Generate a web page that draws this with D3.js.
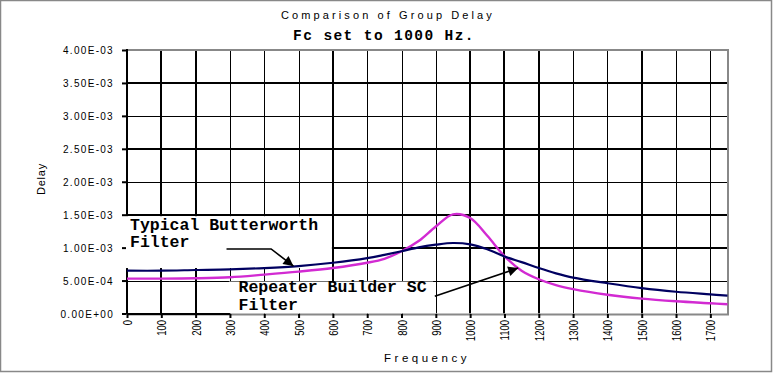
<!DOCTYPE html>
<html><head><meta charset="utf-8">
<script src="https://cdn.jsdelivr.net/npm/d3@7"></script>
<style>html,body{margin:0;padding:0;background:#fff;} svg{display:block;}</style>
</head><body>
<script>
// ---------- data ----------
const freq        = [0, 100, 200, 300, 400, 500, 600, 700, 750, 800, 850, 900, 950, 1000, 1050, 1100, 1150, 1200, 1250, 1300, 1400, 1500, 1600, 1700, 1750];
const butterworth = [0.00065, 0.00065, 0.00066, 0.00067, 0.00069, 0.00072, 0.00077, 0.00084, 0.00089, 0.000945, 0.001005, 0.001045, 0.00107, 0.00105, 0.000975, 0.000865, 0.00078, 0.00069, 0.00061, 0.000545, 0.00046, 0.000385, 0.00033, 0.00029, 0.00027];
const repeater    = [0.00053, 0.00053, 0.000535, 0.00055, 0.00059, 0.000635, 0.00069, 0.00077, 0.00083, 0.000945, 0.0011, 0.00132, 0.001505, 0.00145, 0.00118, 0.00087, 0.00065, 0.00052, 0.00043, 0.00037, 0.000285, 0.000225, 0.000185, 0.000155, 0.00014];
const xTicks      = [0, 100, 200, 300, 400, 500, 600, 700, 800, 900, 1000, 1100, 1200, 1300, 1400, 1500, 1600, 1700];
const yTicks      = [0, 0.0005, 0.001, 0.0015, 0.002, 0.0025, 0.003, 0.0035, 0.004];
const yTickLabels = ["0.00E+00", "5.00E-04", "1.00E-03", "1.50E-03", "2.00E-03", "2.50E-03", "3.00E-03", "3.50E-03", "4.00E-03"];
const titleText    = "Comparison of Group Delay";
const subtitleText = "Fc set to 1000 Hz.";
const xLabel = "Frequency";
const yLabel = "Delay";
const note1 = ["Typical Butterworth", "Filter"];
const note2 = ["Repeater Builder SC", "Filter"];

// ---------- layout / style ----------
const W = 773, H = 373;
const x = d3.scaleLinear().domain([0, 1750]).range([127, 727.5]);
const y = d3.scaleLinear().domain([0, 0.004]).range([313.5, 50]);
const thickX = new Set([0, 100, 200, 600, 1000, 1100, 1200, 1500]);
const thickY = new Set([0.001, 0.0015, 0.0025, 0.0035]);
const navy = "#000060", magenta = "#d22ad2", gray = "#888";

const svg = d3.select("body").append("svg").attr("width", W).attr("height", H);
svg.append("rect").attr("width", W).attr("height", H).attr("fill", "#fff");
// outer chart border
svg.append("rect").attr("x", 0.5).attr("y", 0.5).attr("width", 771).attr("height", 371)
  .attr("fill", "none").attr("stroke", gray).attr("stroke-width", 1.5);

const [x0, x1] = x.range(), [y0, y1] = y.range();

// gridlines
const g = svg.append("g");
g.selectAll("line.vx").data(xTicks.filter(d => d > 0)).join("line")
  .attr("x1", d => thickX.has(d) ? Math.round(x(d)) : Math.round(x(d)) + 0.5)
  .attr("x2", d => thickX.has(d) ? Math.round(x(d)) : Math.round(x(d)) + 0.5)
  .attr("y1", y1).attr("y2", y0)
  .attr("stroke", "#000").attr("stroke-width", d => thickX.has(d) ? 2 : 1);
g.selectAll("line.hy").data(yTicks.filter(d => d > 0 && d < 0.004)).join("line")
  .attr("y1", d => thickY.has(d) ? Math.round(y(d)) : Math.round(y(d)) + 0.5)
  .attr("y2", d => thickY.has(d) ? Math.round(y(d)) : Math.round(y(d)) + 0.5)
  .attr("x1", x0).attr("x2", x1)
  .attr("stroke", "#000").attr("stroke-width", d => thickY.has(d) ? 2 : 1);

// plot border (top/right/bottom gray)
svg.append("path")
  .attr("d", `M${x0},${Math.round(y1)}H${Math.round(x1)}V${Math.round(y0)+0.5}H${x0}`)
  .attr("fill", "none").attr("stroke", gray).attr("stroke-width", 2);
// black part of the x axis line
svg.append("line").attr("x1", x0).attr("x2", x(300)).attr("y1", Math.round(y0)).attr("y2", Math.round(y0))
  .attr("stroke", "#000").attr("stroke-width", 2);

// text boxes (white, hide gridlines)
svg.append("rect").attr("x", x(0) + 0.5).attr("y", y(0.0015) + 1.5)
  .attr("width", x(600) - x(0) - 1.5).attr("height", y(0.00069) - y(0.0015) - 1.5).attr("fill", "#fff");
svg.append("rect").attr("x", x(300) - 1).attr("y", y(0.0005) + 1)
  .attr("width", x(895) - x(300)).attr("height", y(0) - y(0.0005) - 1.5).attr("fill", "#fff");

// axes
const yAxis = d3.axisLeft(y).tickValues(yTicks).tickFormat((d, i) => yTickLabels[i]).tickSize(4).tickPadding(8);
const ya = svg.append("g").attr("transform", `translate(${Math.round(x0) - 1},0)`).call(yAxis);
ya.select(".domain").remove();
ya.selectAll(".tick line").attr("stroke", "#000").attr("stroke-width", 2);
ya.selectAll(".tick text").attr("font-family", "Liberation Sans, Arial, sans-serif")
  .attr("font-size", "10px").attr("letter-spacing", "1.3px").attr("fill", "#000").attr("dy", "0.35em");
svg.append("line").attr("x1", Math.round(x0)).attr("x2", Math.round(x0)).attr("y1", y1 - 1).attr("y2", y0 + 1)
  .attr("stroke", "#000").attr("stroke-width", 2);
// re-cover the axis line where the first text box overlaps it
svg.append("rect").attr("x", x(0) - 1).attr("y", y(0.0015) + 1.5)
  .attr("width", 3).attr("height", y(0.00069) - y(0.0015) - 1.5).attr("fill", "#fff");

const xAxis = d3.axisBottom(x).tickValues(xTicks).tickSize(4).tickFormat(d3.format("d"));
const xa = svg.append("g").attr("transform", `translate(0,${Math.round(y0)})`).call(xAxis);
xa.select(".domain").remove();
xa.selectAll(".tick line").attr("stroke", "#000").attr("stroke-width", 2);
xa.selectAll(".tick text")
  .attr("font-family", "Liberation Sans, Arial, sans-serif").attr("font-size", "12.5px")
  .attr("fill", "#000").attr("text-anchor", "end").attr("dy", null).attr("y", 0)
  .attr("transform", "translate(4.5,6) rotate(-90) scale(0.76,1)");

// curves
const line = d3.line().x((d, i) => x(freq[i])).y(d => y(d)).curve(d3.curveCatmullRom.alpha(0.5));
svg.append("path").attr("d", line(repeater)).attr("fill", "none")
  .attr("stroke", magenta).attr("stroke-width", 2.4).attr("stroke-linejoin", "round");
svg.append("path").attr("d", line(butterworth)).attr("fill", "none")
  .attr("stroke", navy).attr("stroke-width", 2.2).attr("stroke-linejoin", "round");

// titles
svg.append("text").attr("x", 388).attr("y", 19).attr("text-anchor", "middle")
  .attr("font-family", "Liberation Sans, Arial, sans-serif").attr("font-size", "11px")
  .attr("letter-spacing", "3.1px").text(titleText);
svg.append("text").attr("x", 384).attr("y", 39.5).attr("text-anchor", "middle")
  .attr("font-family", "Liberation Mono, Courier New, monospace").attr("font-weight", "bold")
  .attr("font-size", "14.5px").attr("letter-spacing", "1.4px").text(subtitleText);
svg.append("text").attr("x", 427).attr("y", 361.5).attr("text-anchor", "middle")
  .attr("font-family", "Liberation Sans, Arial, sans-serif").attr("font-size", "11.5px")
  .attr("letter-spacing", "3.5px").text(xLabel);
svg.append("text").attr("transform", "translate(45,179) rotate(-90)").attr("text-anchor", "middle")
  .attr("font-family", "Liberation Sans, Arial, sans-serif").attr("font-size", "11px")
  .attr("letter-spacing", "0.8px").text(yLabel);

// annotations
const noteFont = t => t.attr("font-family", "Liberation Mono, Courier New, monospace")
  .attr("font-weight", "bold").attr("font-size", "16.5px").attr("fill", "#000");
const t1 = svg.append("text").call(noteFont);
note1.forEach((s, i) => t1.append("tspan").attr("x", 130).attr("y", 229.5 + i * 17.4).text(s));
const t2 = svg.append("text").call(noteFont);
note2.forEach((s, i) => t2.append("tspan").attr("x", 238.5).attr("y", 291.8 + i * 18.3).text(s));

const defs = svg.append("defs");
defs.append("marker").attr("id", "ah").attr("viewBox", "0 0 10 10").attr("refX", 10).attr("refY", 5)
  .attr("markerUnits", "userSpaceOnUse").attr("markerWidth", 12).attr("markerHeight", 10).attr("orient", "auto")
  .append("path").attr("d", "M0,0L10,5L0,10z").attr("fill", "#000");
svg.append("path")
  .attr("d", `M${x(290)},${y(0.00098)}H${x(420)}L${x(485)},${y(0.00072)}`)
  .attr("fill", "none").attr("stroke", "#000").attr("stroke-width", 1.6).attr("marker-end", "url(#ah)");
svg.append("path")
  .attr("d", `M${x(897)},${y(0.000262)}L${x(1140)},${y(0.00069)}`)
  .attr("fill", "none").attr("stroke", "#000").attr("stroke-width", 1.6).attr("marker-end", "url(#ah)");
</script>
</body></html>
